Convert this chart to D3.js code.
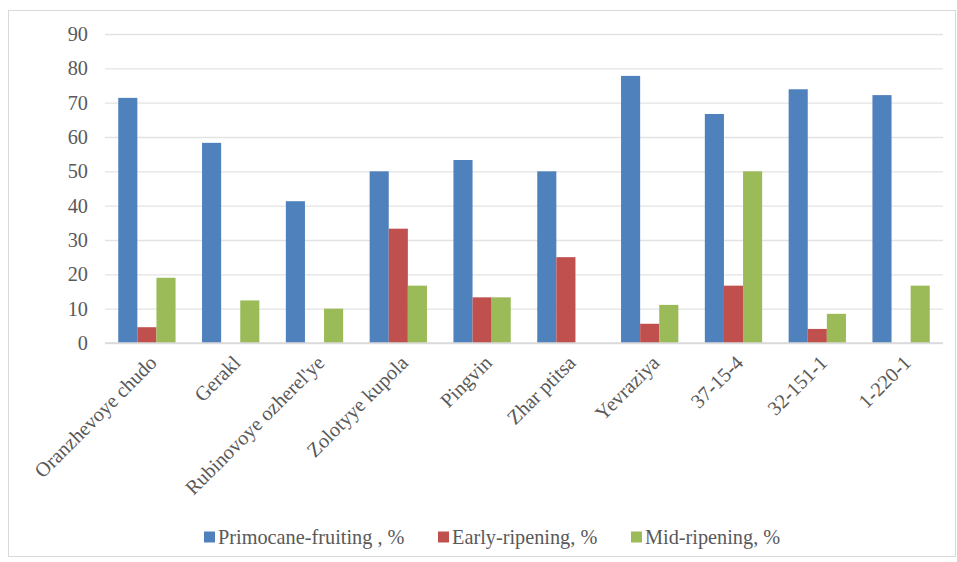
<!DOCTYPE html>
<html>
<head>
<meta charset="utf-8">
<script src="https://cdn.jsdelivr.net/npm/d3@7"></script>
<style>
    body { margin: 0; background: #fff; }
    svg { display: block; }
</style>
</head>
<body>
<div id="chart"></div>
<script>
    const categories = ["Oranzhevoye chudo", "Gerakl", "Rubinovoye ozherel'ye", "Zolotyye kupola",
        "Pingvin", "Zhar ptitsa", "Yevraziya", "37-15-4", "32-151-1", "1-220-1"];
    const seriesNames = ["Primocane-fruiting , %", "Early-ripening, %", "Mid-ripening, %"];
    const primocane = [71.4, 58.3, 41.3, 50, 53.3, 50, 77.8, 66.7, 73.9, 72.2];
    const early = [4.6, 0, 0, 33.3, 13.3, 25, 5.6, 16.7, 4.1, 0];
    const mid = [19.0, 12.4, 10.0, 16.7, 13.3, 0, 11.1, 50, 8.5, 16.7];
    const yTicks = [0, 10, 20, 30, 40, 50, 60, 70, 80, 90];

    const COLORS = ["#4f81bd", "#c0504d", "#9bbb59"];
    const FONT = "'Liberation Serif', 'Times New Roman', 'DejaVu Serif', serif";
    const FS = 20.3;
    const W = 957, H = 562;
    const margin = { top: 34, right: 14, bottom: 219, left: 105 };
    const width = W - margin.left - margin.right;
    const height = H - margin.top - margin.bottom;

    const svg = d3.select("#chart").append("svg")
        .attr("width", W)
        .attr("height", H);

    // chart frame
    svg.append("rect")
        .attr("x", 8.5).attr("y", 10.5)
        .attr("width", W - 10).attr("height", H - 16)
        .attr("fill", "#fff")
        .attr("stroke", "#d9d9d9");

    const g = svg.append("g")
        .attr("transform", `translate(${margin.left},${margin.top})`);

    const x = d3.scaleBand().domain(categories).range([0, width]);
    const y = d3.scaleLinear().domain([0, 90]).range([height, 0]);
    const barW = x.bandwidth() * 0.228;

    // gridlines
    g.append("g")
        .call(d3.axisLeft(y).tickValues(yTicks).tickSize(-width).tickFormat(""))
        .call(a => a.select(".domain").remove())
        .selectAll("line").attr("stroke", "#e3e3e3").attr("stroke-width", 1.3);

    const rows = categories.map((c, i) => ({ cat: c, vals: [primocane[i], early[i], mid[i]] }));

    const groups = g.selectAll(".grp").data(rows).join("g")
        .attr("class", "grp")
        .attr("transform", d => `translate(${x(d.cat) + x.bandwidth() / 2 - 1.5 * barW},0)`);

    groups.selectAll("rect")
        .data(d => d.vals.map((v, k) => ({ v, k })))
        .join("rect")
        .attr("x", d => d.k * barW)
        .attr("y", d => y(d.v))
        .attr("width", barW)
        .attr("height", d => height - y(d.v))
        .attr("fill", d => COLORS[d.k]);

    // baseline
    g.append("line")
        .attr("x1", 0).attr("x2", width)
        .attr("y1", height).attr("y2", height)
        .attr("stroke", "#d9d9d9").attr("stroke-width", 1.3);

    // Y-AXIS labels
    g.append("g")
        .selectAll("text").data(yTicks).join("text")
        .attr("x", -17)
        .attr("y", d => y(d))
        .attr("dy", "0.35em")
        .attr("text-anchor", "end")
        .attr("font-family", FONT)
        .attr("font-size", FS)
        .attr("fill", "#595959")
        .text(d => d);

    // X-AXIS labels, rotated
    g.append("g")
        .selectAll("text").data(categories).join("text")
        .attr("transform", d => `translate(${x(d) + x.bandwidth() / 2 + 6},${height + 16}) rotate(-45)`)
        .attr("text-anchor", "end")
        .attr("dy", "0.35em")
        .attr("font-family", FONT)
        .attr("font-size", FS)
        .attr("fill", "#595959")
        .text(d => d);

    // Legend
    const legendX = [204, 438, 631];
    const legend = svg.append("g").attr("transform", "translate(0,537)");
    const li = legend.selectAll("g").data(seriesNames).join("g")
        .attr("transform", (d, i) => `translate(${legendX[i]},0)`);
    li.append("rect")
        .attr("x", 0).attr("y", -5.5)
        .attr("width", 11).attr("height", 11)
        .attr("fill", (d, i) => COLORS[i]);
    li.append("text")
        .attr("x", 14)
        .attr("dy", "0.35em")
        .attr("font-family", FONT)
        .attr("font-size", FS)
        .attr("fill", "#595959")
        .text(d => d);
</script>
</body>
</html>
